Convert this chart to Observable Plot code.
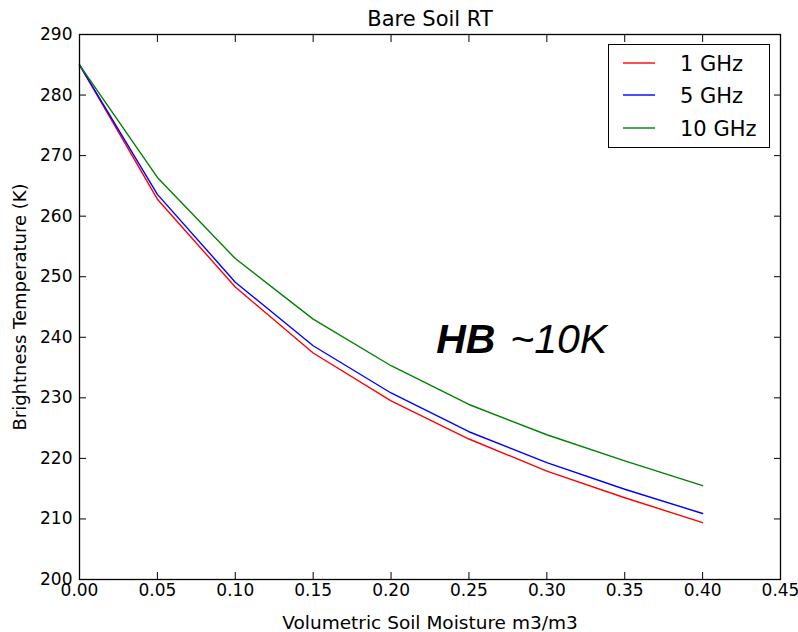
<!DOCTYPE html>
<html>
<head>
<meta charset="utf-8">
<script src="https://cdn.jsdelivr.net/npm/d3@7"></script>
<script src="https://cdn.jsdelivr.net/npm/@observablehq/plot@0.6"></script>
<style>
  html, body { margin: 0; padding: 0; background: white; }
  #wrap { position: relative; width: 798px; height: 632px; font-family: "DejaVu Sans", sans-serif; }
  #legend { position: absolute; left: 608px; top: 44px; width: 160px; height: 102px; border: 1.2px solid black; background: white; }
</style>
</head>
<body>
<div id="wrap"></div>
<script>
const moisture = [0, 0.05, 0.10, 0.15, 0.20, 0.25, 0.30, 0.35, 0.40];
const tb1GHz  = [285, 262.8, 248.3, 237.4, 229.5, 223.2, 217.9, 213.5, 209.4];
const tb5GHz  = [285, 263.6, 249.1, 238.6, 230.8, 224.4, 219.3, 214.9, 210.9];
const tb10GHz = [285, 266.4, 253.0, 243.0, 235.3, 228.9, 223.9, 219.6, 215.5];
const seriesNames = ["1 GHz", "5 GHz", "10 GHz"];
const seriesColors = ["#ff0000", "#0000ff", "#008000"];
const xTicks = [0, 0.05, 0.10, 0.15, 0.20, 0.25, 0.30, 0.35, 0.40, 0.45];
const yTicks = [200, 210, 220, 230, 240, 250, 260, 270, 280, 290];
const annotation = [{x: 0.229, y: 237.4}];

const seriesValues = [tb1GHz, tb5GHz, tb10GHz];
const data = seriesNames.flatMap((name, i) =>
  moisture.map((m, j) => ({series: name, x: m, y: seriesValues[i][j]})));

const chart = Plot.plot({
  width: 798,
  height: 632,
  marginLeft: 79,
  marginRight: 18,
  marginTop: 34,
  marginBottom: 53,
  x: {domain: [0, 0.45]},
  y: {domain: [200, 290]},
  color: {domain: seriesNames, range: seriesColors},
  style: {fontFamily: "DejaVu Sans, sans-serif", fontSize: "18px", color: "black", background: "white"},
  marks: [
    Plot.line(data, {x: "x", y: "y", z: "series", stroke: "series", strokeWidth: 1.4}),
    Plot.frame({stroke: "black", strokeWidth: 1.3}),
    Plot.axisX(xTicks, {anchor: "bottom", tickSize: -7, tickFormat: () => "", label: null}),
    Plot.axisX(xTicks, {anchor: "top", tickSize: -7, tickFormat: () => "", label: null}),
    Plot.axisY(yTicks, {anchor: "left", tickSize: -7, tickFormat: () => "", label: null}),
    Plot.axisY(yTicks, {anchor: "right", tickSize: -7, tickFormat: () => "", label: null}),
    Plot.axisX(xTicks, {anchor: "bottom", tickSize: 0, tickPadding: 4, fontSize: 17, tickFormat: d => d.toFixed(2), label: null}),
    Plot.axisY(yTicks, {anchor: "left", tickSize: 0, tickPadding: 7, fontSize: 17, tickFormat: d => String(d), label: null}),
    Plot.text(["Volumetric Soil Moisture m3/m3"], {frameAnchor: "bottom", dy: 44, fontSize: 18.5, lineAnchor: "middle", textAnchor: "middle", fill: "black"}),
    Plot.text(["Brightness Temperature (K)"], {frameAnchor: "left", dx: -59, rotate: -90, fontSize: 18, lineAnchor: "middle", textAnchor: "middle", fill: "black"}),
    Plot.text(["Bare Soil RT"], {frameAnchor: "top", dy: -15, fontSize: 21, lineAnchor: "middle", textAnchor: "middle", fill: "black"}),
    Plot.text(annotation, {x: "x", y: "y", text: () => "HB", textAnchor: "start", lineAnchor: "bottom",
      fontSize: 41, fontWeight: "bold", fontStyle: "italic", fontFamily: "Liberation Sans, Arial, sans-serif", fill: "black"}),
    Plot.text(annotation, {x: "x", y: "y", text: () => "~10K", textAnchor: "start", lineAnchor: "bottom", dx: 74,
      fontSize: 41, fontStyle: "italic", fontFamily: "Liberation Sans, Arial, sans-serif", fill: "black"})
  ]
});

const wrap = document.getElementById("wrap");
wrap.appendChild(chart);

// legend (inside the axes, top-right)
const legend = d3.select(wrap).append("div").attr("id", "legend");
const lsvg = legend.append("svg").attr("width", 160).attr("height", 102)
  .style("position", "absolute").style("left", "0px").style("top", "0px");
const rowY = [18, 50, 83];
seriesNames.forEach((name, i) => {
  lsvg.append("line").attr("x1", 14).attr("x2", 46).attr("y1", rowY[i]).attr("y2", rowY[i])
    .attr("stroke", seriesColors[i]).attr("stroke-width", 1.4);
  lsvg.append("text").attr("x", 71).attr("y", rowY[i]).attr("dy", "0.36em")
    .attr("font-family", "DejaVu Sans, sans-serif").attr("font-size", 21).attr("fill", "black")
    .text(name);
});
</script>
</body>
</html>
